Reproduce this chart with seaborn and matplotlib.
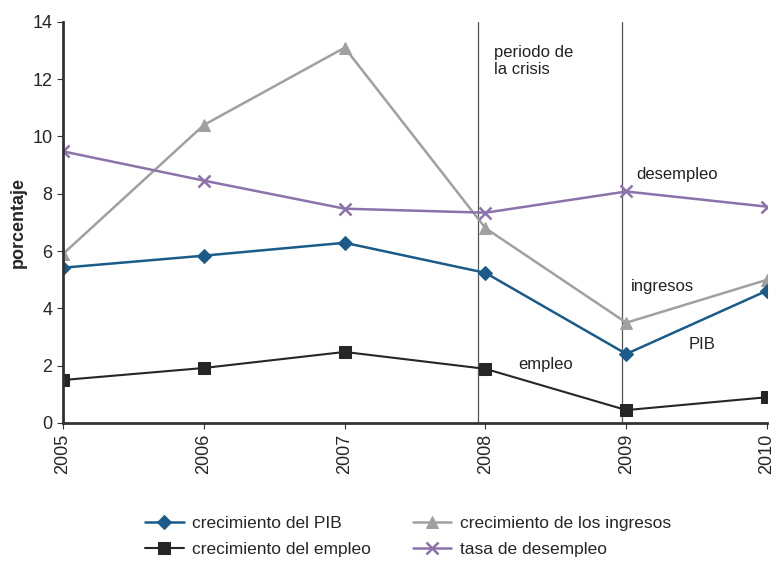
import numpy as np
import pandas as pd
import seaborn as sns
import matplotlib.pyplot as plt

# Data
years = [2005, 2006, 2007, 2008, 2009, 2010]
pib = [5.42, 5.84, 6.29, 5.24, 2.41, 4.62]
ingresos = [5.9, 10.4, 13.1, 6.8, 3.5, 5.0]
empleo = [1.5, 1.92, 2.48, 1.89, 0.45, 0.9]
desempleo = [9.48, 8.46, 7.48, 7.34, 8.08, 7.55]

labels = ["crecimiento del PIB", "crecimiento de los ingresos",
          "crecimiento del empleo", "tasa de desempleo"]

sns.set_style("white")
plt.rcParams['font.family'] = ['Liberation Sans', 'DejaVu Sans']

fig = plt.figure(figsize=(7.78, 5.61), dpi=100)
ax = fig.add_axes([0.081, 0.246, 0.905, 0.715])

# crisis period lines
ax.axvline(2007.95, color="#555555", lw=0.9, zorder=1)
ax.axvline(2008.97, color="#555555", lw=0.9, zorder=1)

sns.lineplot(x=years, y=ingresos, ax=ax, color="#a0a0a0", marker="^",
             markersize=9, markeredgecolor="#a0a0a0", lw=1.8)
sns.lineplot(x=years, y=desempleo, ax=ax, color="#8c72aa", marker="x",
             markersize=9, markeredgecolor="#8c72aa", mew=1.8, lw=1.8)
sns.lineplot(x=years, y=pib, ax=ax, color="#1a5b89", marker="D",
             markersize=7, markeredgecolor="#1a5b89", lw=1.8)
sns.lineplot(x=years, y=empleo, ax=ax, color="#262626", marker="s",
             markersize=9, markeredgecolor="#262626", lw=1.5)

lines = ax.get_lines()[2:]
line_ing, line_des, line_pib, line_emp = lines
ax.legend([line_pib, line_emp, line_ing, line_des],
          [labels[0], labels[2], labels[1], labels[3]],
          ncol=2, frameon=False, loc="upper center",
          bbox_to_anchor=(0.49, -0.215), fontsize=12.5,
          handlelength=2.2, columnspacing=2.4, labelspacing=0.6,
          handletextpad=0.5, borderaxespad=0)

ax.set_xlim(2005, 2010)
ax.set_ylim(0, 14)
ax.set_xticks(years)
ax.set_xticklabels([str(y) for y in years], rotation=90, fontsize=13)
ax.set_yticks(np.arange(0, 15, 2))
ax.tick_params(axis="y", labelsize=13, left=True, length=4, color="#333333")
ax.tick_params(axis="x", bottom=True, length=4, color="#333333")
ax.set_ylabel("porcentaje", fontsize=13, fontweight="bold")

for side in ["top", "right"]:
    ax.spines[side].set_visible(False)
for side in ["left", "bottom"]:
    ax.spines[side].set_color("#333333")
    ax.spines[side].set_linewidth(2)

ax.text(2008.06, 13.2, "periodo de\nla crisis", fontsize=12, va="top", color="#222222")
ax.text(2009.07, 8.5, "desempleo", fontsize=12, color="#222222")
ax.text(2009.03, 4.6, "ingresos", fontsize=12, color="#222222")
ax.text(2009.44, 2.6, "PIB", fontsize=12, color="#222222")
ax.text(2008.23, 1.9, "empleo", fontsize=12, color="#222222")

fig.savefig("out.png", dpi=100)
